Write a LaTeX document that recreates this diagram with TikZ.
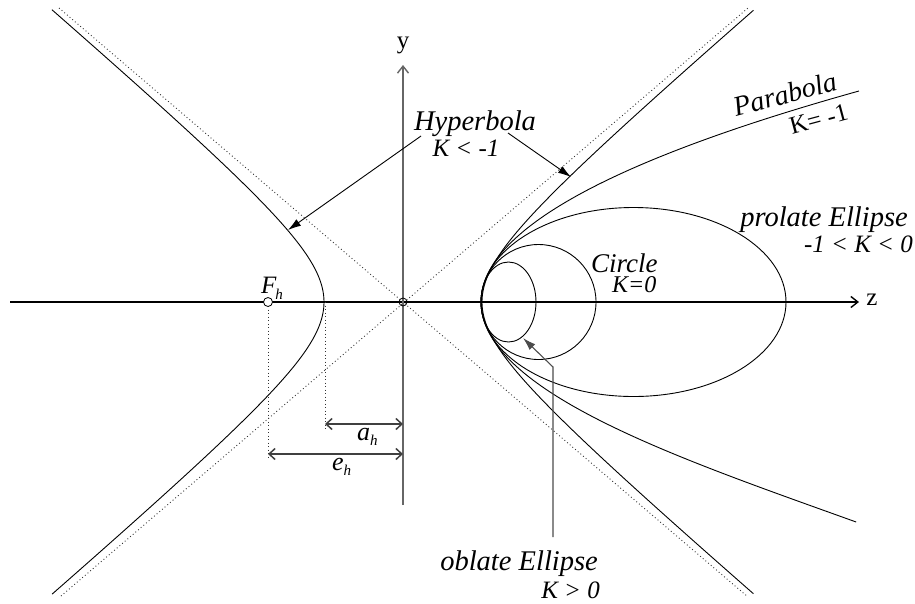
\documentclass[tikz,border=0pt]{standalone}
\usepackage{fontspec}
\setmainfont{Liberation Serif}
\usepackage{graphicx}
\usetikzlibrary{arrows.meta}
\newcommand\mylab[3]{\fontsize{#1}{#1}\selectfont\scalebox{#2}[1]{#3}}
\begin{document}
\begin{tikzpicture}[x=1pt,y=-1pt,
  curve/.style={line width=0.9pt, black},
  asym/.style={line width=0.9pt, dash pattern=on 0.9pt off 2.6pt, black!80},
  axz/.style={line width=1.1pt, -{Straight Barb[length=7pt,width=11pt,line width=1.4pt]}},
  axy/.style={line width=1.3pt, black!60, -{Straight Barb[length=7pt,width=11pt,line width=1.4pt]}},
  dim/.style={line width=1.3pt, black!75, {Straight Barb[length=6pt,width=11pt,line width=1.5pt]}-{Straight Barb[length=6pt,width=11pt,line width=1.5pt]}},
  ptr/.style={line width=0.9pt, -{Latex[length=13pt,width=8pt]}},
  ptrg/.style={line width=1.1pt, black!70, -{Latex[length=13pt,width=8pt]}},
  lbl/.style={inner sep=0pt, font=\itshape},
  rlbl/.style={inner sep=0pt},
  ptmark/.style={circle, draw, line width=0.8pt, inner sep=0pt}
]
\useasboundingbox (0,0) rectangle (915,603);

% asymptotes
\coordinate (a1) at (59,8);
\coordinate (a2) at (748,597);
\coordinate (a3) at (61,596);
\coordinate (a4) at (748,8);
\draw[asym] (a1) -- (a2);
\draw[asym] (a3) -- (a4);

% axes
\coordinate (zs) at (10,302);
\coordinate (ze) at (859,302);
\draw[axz] (zs) -- (ze);
\node[rlbl, font=\fontsize{25}{25}\selectfont] (zl) at (872,300) {z};
\coordinate (ys) at (403,505);
\coordinate (ye) at (403,65);
\draw[axy] (ys) -- (ye);
\node[rlbl, font=\fontsize{25}{25}\selectfont] (yl) at (403,45) {y};

% hyperbola branches
\draw[curve] plot[domain=-2.172:2.172, samples=120, variable=\t] ({403-79*cosh(\t)},{302+67.5*sinh(\t)});
\draw[curve] plot[domain=-2.17:2.17, samples=120, variable=\t] ({403+79*cosh(\t)},{302+67.5*sinh(\t)});

% parabola
\draw[curve] plot[domain=0:211, samples=80, variable=\s] ({481+(\s/10)*(\s/10)/1.178},{302-\s});
\draw[curve] plot[domain=0:220, samples=80, variable=\s] ({481+(\s/10)*(\s/10)/(0.02*(58.5+6*(\s/220)^4))},{302+\s});

% ellipses and circle
\draw[curve] (633.5,302) circle[x radius=152.5, y radius=94.5];
\draw[curve] (538.5,302) circle[radius=57.5];
\draw[curve] (508.5,302) circle[x radius=27.5, y radius=40];

% dimension helpers
\draw[asym] (268,306) -- (268,459);
\draw[asym] (325,302) -- (325,429);
\coordinate (ah1) at (325,424);
\coordinate (ah2) at (403,424);
\draw[dim] (ah1) -- (ah2);
\coordinate (eh1) at (268,454);
\coordinate (eh2) at (403,454);
\draw[dim] (eh1) -- (eh2);
\node[lbl, anchor=base west] (al) at (357,440) {\fontsize{26}{26}\selectfont a\raisebox{-0.22em}{\fontsize{15}{15}\selectfont h}};
\node[lbl, anchor=base west] (el) at (332,470) {\fontsize{26}{26}\selectfont e\raisebox{-0.22em}{\fontsize{15}{15}\selectfont h}};

% points
\node[ptmark, fill=white, minimum size=9pt] (F) at (268,302) {};
\node[ptmark, minimum size=8pt] (O) at (403,302) {};
\node[lbl, anchor=base west] (Fl) at (261,293) {\fontsize{25}{25}\selectfont F\kern-0.04em\raisebox{-0.25em}{\fontsize{15}{15}\selectfont h}};

% labels
\node[lbl, anchor=base] (hyp) at (475,130) {\mylab{28.5}{1}{Hyperbola}};
\node[lbl, anchor=base] (hypk) at (466,156) {\mylab{25}{1}{K < -1}};
\coordinate (hp1s) at (421,136);
\coordinate (hp1e) at (288,230);
\draw[ptr] (hp1s) -- (hp1e);
\coordinate (hp2s) at (508,133);
\coordinate (hp2e) at (571,177);
\draw[ptr] (hp2s) -- (hp2e);

\node[lbl, anchor=base west, rotate=15] (par) at (736,117) {\mylab{28}{1}{Parabola}};
\node[rlbl, anchor=base west, rotate=15] (park) at (792,135) {\mylab{25}{1}{K= -1}};

\node[lbl, anchor=base east] (pro) at (908,226) {\mylab{28.5}{1}{prolate Ellipse}};
\node[lbl, anchor=base east] (prok) at (913,252) {\mylab{25}{1}{-1 < K < 0}};

\node[lbl, anchor=base west] (cir) at (591,272) {\mylab{27}{1}{Circle}};
\node[lbl, anchor=base west] (cirk) at (612,292) {\mylab{24}{1}{K=0}};

\node[lbl, anchor=base east] (obl) at (598,570) {\mylab{28.5}{1}{oblate Ellipse}};
\node[lbl, anchor=base east] (oblk) at (600,598) {\mylab{25}{1}{K > 0}};
\coordinate (ob1) at (553,537);
\coordinate (ob2) at (553,367);
\coordinate (ob3) at (523,338);
\draw[ptrg] (ob1) -- (ob2) -- (ob3);
\end{tikzpicture}
\end{document}
